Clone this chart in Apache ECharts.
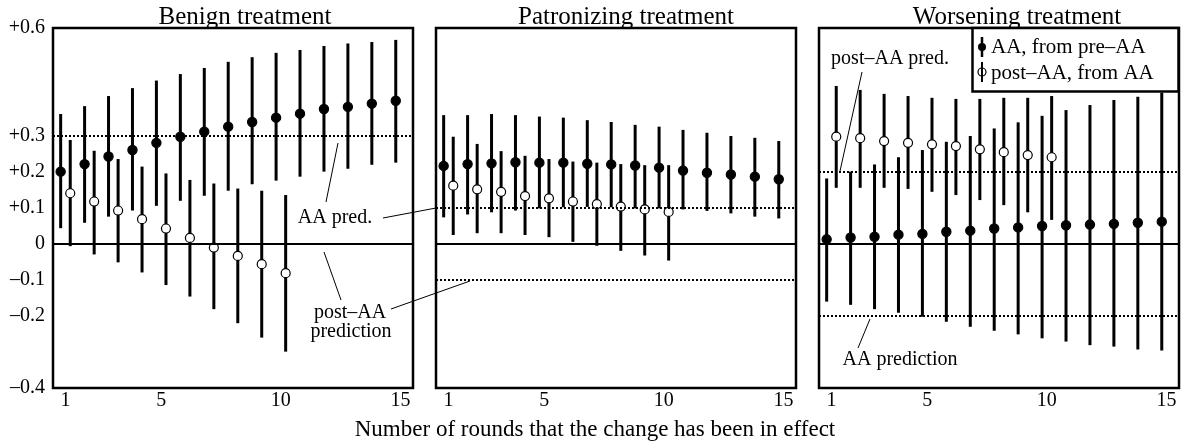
<!DOCTYPE html>
<html>
<head>
<meta charset="utf-8">
<script src="https://cdn.jsdelivr.net/npm/echarts@6/dist/echarts.min.js"></script>
<style>
  html, body { margin: 0; padding: 0; background: #fff; }
  #chart { width: 1181px; height: 443px; }
</style>
</head>
<body>
<div id="chart"></div>
<script>
// rounds 1..15, AA estimates (filled) and post-AA estimates (hollow, rounds 1..10)
var rounds = [1, 2, 3, 4, 5, 6, 7, 8, 9, 10, 11, 12, 13, 14, 15];
var panelTitles = ['Benign treatment', 'Patronizing treatment', 'Worsening treatment'];
var xTicks = [1, 5, 10, 15];
var yTicks = [0.6, 0.3, 0.2, 0.1, 0, -0.1, -0.2, -0.4];

var benignAA   = [0.201, 0.222, 0.243, 0.261, 0.281, 0.298, 0.312, 0.326, 0.339, 0.351, 0.362, 0.375, 0.381, 0.390, 0.398];
var benignAALo = [0.044, 0.059, 0.076, 0.093, 0.106, 0.120, 0.134, 0.148, 0.166, 0.176, 0.187, 0.201, 0.209, 0.220, 0.226];
var benignAAHi = [0.361, 0.383, 0.411, 0.433, 0.454, 0.472, 0.489, 0.506, 0.519, 0.531, 0.539, 0.550, 0.557, 0.561, 0.567];
var benignPost   = [0.141, 0.118, 0.093, 0.069, 0.043, 0.017, -0.010, -0.033, -0.056, -0.081];
var benignPostLo = [-0.006, -0.029, -0.051, -0.079, -0.114, -0.146, -0.181, -0.220, -0.260, -0.299];
var benignPostHi = [0.289, 0.259, 0.236, 0.215, 0.196, 0.178, 0.168, 0.154, 0.148, 0.136];

var patronAA   = [0.217, 0.222, 0.224, 0.227, 0.226, 0.226, 0.223, 0.221, 0.218, 0.212, 0.204, 0.198, 0.193, 0.187, 0.180];
var patronAALo = [0.074, 0.082, 0.088, 0.093, 0.099, 0.102, 0.103, 0.102, 0.099, 0.099, 0.096, 0.092, 0.085, 0.076, 0.071];
var patronAAHi = [0.358, 0.358, 0.361, 0.358, 0.354, 0.351, 0.344, 0.339, 0.331, 0.326, 0.317, 0.309, 0.300, 0.295, 0.286];
var patronPost   = [0.162, 0.152, 0.145, 0.133, 0.127, 0.118, 0.111, 0.104, 0.096, 0.089];
var patronPostLo = [0.025, 0.030, 0.030, 0.025, 0.019, 0.006, -0.005, -0.019, -0.032, -0.046];
var patronPostHi = [0.298, 0.278, 0.258, 0.245, 0.236, 0.229, 0.226, 0.222, 0.219, 0.219];

var worseAA   = [0.013, 0.018, 0.020, 0.026, 0.028, 0.034, 0.037, 0.043, 0.046, 0.050, 0.052, 0.054, 0.056, 0.059, 0.062];
var worseAALo = [-0.160, -0.169, -0.181, -0.191, -0.202, -0.216, -0.230, -0.241, -0.251, -0.262, -0.271, -0.281, -0.285, -0.293, -0.296];
var worseAAHi = [0.182, 0.201, 0.221, 0.241, 0.261, 0.284, 0.300, 0.321, 0.338, 0.356, 0.372, 0.386, 0.400, 0.409, 0.420];
var worsePost   = [0.298, 0.294, 0.286, 0.281, 0.277, 0.272, 0.263, 0.255, 0.247, 0.241];
var worsePostLo = [0.156, 0.156, 0.156, 0.153, 0.145, 0.136, 0.122, 0.108, 0.088, 0.067];
var worsePostHi = [0.439, 0.428, 0.417, 0.411, 0.406, 0.403, 0.403, 0.406, 0.406, 0.411];

// reference lines per panel: dotted predictions, solid zero
var dottedRefs = [[0.3], [0.1, -0.1], [0.2, -0.2]];

var FONT = '"Liberation Serif", "DejaVu Serif", serif';
var gridLefts = [53, 436, 819];
var titleCenters = [240, 621, 1012];

function rows(mid, lo, hi, shift) {
  return mid.map(function(m, i) { return [rounds[i] + shift, lo[i], hi[i], m]; });
}

function errBar(filled) {
  return function(params, api) {
    var x = api.value(0);
    var lo = api.coord([x, api.value(1)]);
    var hi = api.coord([x, api.value(2)]);
    var mid = api.coord([x, api.value(3)]);
    return {
      type: 'group',
      children: [
        { type: 'line', shape: { x1: lo[0], y1: lo[1], x2: hi[0], y2: hi[1] },
          style: { stroke: '#000', lineWidth: 3 } },
        { type: 'circle', shape: { cx: mid[0], cy: mid[1], r: filled ? 4.6 : 4.5 },
          style: { fill: filled ? '#000' : '#fff', stroke: '#000', lineWidth: 1.2 } }
      ]
    };
  };
}

var panels = [
  [benignAA, benignAALo, benignAAHi, benignPost, benignPostLo, benignPostHi],
  [patronAA, patronAALo, patronAAHi, patronPost, patronPostLo, patronPostHi],
  [worseAA, worseAALo, worseAAHi, worsePost, worsePostLo, worsePostHi]
];

var grids = [], xAxes = [], yAxes = [], series = [], titles = [];
panels.forEach(function(p, k) {
  grids.push({ left: gridLefts[k], top: 28, width: 360, height: 360,
    show: true, borderColor: '#000', borderWidth: 2.5, backgroundColor: 'transparent' });
  xAxes.push({
    type: 'value', gridIndex: k, min: 0.48, max: 15.52,
    axisLine: { show: false }, axisTick: { show: false }, splitLine: { show: false },
    axisLabel: { customValues: xTicks, color: '#000', fontFamily: FONT, fontSize: 20, margin: 3 }
  });
  yAxes.push({
    type: 'value', gridIndex: k, min: -0.4, max: 0.6,
    axisLine: { show: false }, axisTick: { show: false }, splitLine: { show: false },
    axisLabel: {
      show: k === 0, customValues: yTicks, color: '#000', fontFamily: FONT, fontSize: 20, margin: 8,
      formatter: function(v) {
        if (Math.abs(v) < 1e-9) return '0';
        return (v > 0 ? '+' : '\u2013') + Math.abs(v).toFixed(1);
      }
    }
  });
  var ml = [{ yAxis: 0, lineStyle: { type: 'solid', width: 2 } }];
  dottedRefs[k].forEach(function(v) { ml.push({ yAxis: v, lineStyle: { type: [2, 2], width: 2 } }); });
  series.push({
    type: 'line', xAxisIndex: k, yAxisIndex: k, data: [], z: 1, silent: true,
    markLine: { symbol: 'none', silent: true, label: { show: false }, animation: false,
      lineStyle: { color: '#000' }, data: ml }
  });
  series.push({ type: 'custom', name: 'AA, from pre\u2013AA', xAxisIndex: k, yAxisIndex: k, z: 3,
    renderItem: errBar(true), data: rows(p[0], p[1], p[2], -0.2), silent: true });
  series.push({ type: 'custom', name: 'post\u2013AA, from AA', xAxisIndex: k, yAxisIndex: k, z: 3,
    renderItem: errBar(false), data: rows(p[3], p[4], p[5], 0.2), silent: true });
  titles.push({ text: panelTitles[k], left: titleCenters[k], top: 0, textAlign: 'center',
    textStyle: { fontFamily: FONT, fontSize: 25, fontWeight: 'normal', color: '#000' } });
});
titles.push({ text: 'Number of rounds that the change has been in effect', left: 590, top: 413,
  textAlign: 'center', textStyle: { fontFamily: FONT, fontSize: 23, fontWeight: 'normal', color: '#000' } });

function txt(x, y, s, size) {
  return { type: 'text', x: x, y: y, z: 100,
    style: { text: s, fill: '#000', font: (size || 20) + 'px ' + FONT, textAlign: 'center', textVerticalAlign: 'middle' } };
}
function leader(x1, y1, x2, y2) {
  return { type: 'line', z: 100, shape: { x1: x1, y1: y1, x2: x2, y2: y2 }, style: { stroke: '#000', lineWidth: 1 } };
}

var graphics = [
  // annotations spanning panels 1 and 2
  txt(335, 218, 'AA pred.'),
  leader(338, 143, 326, 202),
  leader(383, 218, 436, 208),
  txt(350, 313, 'post\u2013AA'),
  txt(351, 332, 'prediction'),
  leader(324, 252, 341, 300),
  leader(391, 309, 470, 281),
  // panel 3 annotations
  txt(890, 59, 'post\u2013AA pred.'),
  leader(862, 72, 840, 171),
  txt(900, 360, 'AA prediction'),
  leader(870, 319, 858, 348),
  // legend box
  { type: 'rect', z: 90, shape: { x: 972.5, y: 28, width: 206, height: 63.5 },
    style: { fill: '#fff', stroke: '#000', lineWidth: 2.5 } },
  { type: 'line', z: 100, shape: { x1: 982, y1: 37, x2: 982, y2: 57 }, style: { stroke: '#000', lineWidth: 2.5 } },
  { type: 'circle', z: 101, shape: { cx: 982, cy: 47, r: 4 }, style: { fill: '#000' } },
  { type: 'line', z: 100, shape: { x1: 982, y1: 62, x2: 982, y2: 82 }, style: { stroke: '#000', lineWidth: 2 } },
  { type: 'circle', z: 101, shape: { cx: 982, cy: 72, r: 4 }, style: { fill: 'none', stroke: '#000', lineWidth: 1.2 } },
  { type: 'text', x: 991, y: 47, z: 100, style: { text: 'AA, from pre\u2013AA', fill: '#000', font: '21px ' + FONT, textVerticalAlign: 'middle' } },
  { type: 'text', x: 991, y: 73, z: 100, style: { text: 'post\u2013AA, from AA', fill: '#000', font: '21px ' + FONT, textVerticalAlign: 'middle' } }
];

var chart = echarts.init(document.getElementById('chart'), null, { renderer: 'canvas' });
chart.setOption({
  animation: false,
  backgroundColor: '#fff',
  title: titles,
  grid: grids,
  xAxis: xAxes,
  yAxis: yAxes,
  series: series,
  graphic: graphics
});
window.addEventListener('resize', function() { chart.resize(); });
</script>
</body>
</html>
